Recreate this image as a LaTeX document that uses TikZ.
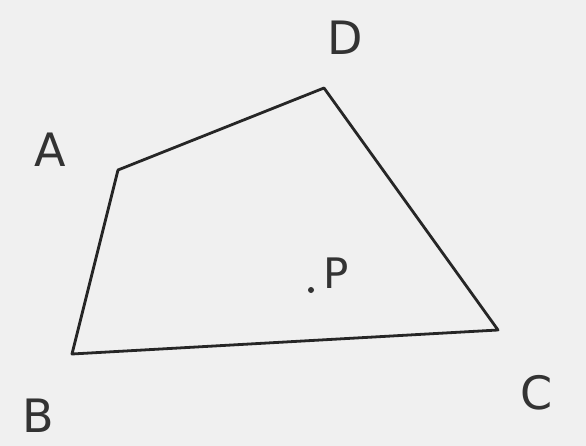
\documentclass[tikz,border=0pt]{standalone}
\usepackage{fontspec}
\setmainfont{DejaVu Sans}
\begin{document}
\begin{tikzpicture}[x=1pt,y=-1pt,
  lbl/.style={font=\fontsize{46}{50}\selectfont, text=black!80, inner sep=0pt},
  edge/.style={draw=black!85, line width=2.8pt, line join=round}]
\fill[black!6] (0,0) rectangle (586,446);
\useasboundingbox (0,0) rectangle (586,446);
\coordinate (A) at (118,170);
\coordinate (D) at (324,88);
\coordinate (C) at (498,330);
\coordinate (B) at (72,354);
\coordinate (P) at (311,290);
\draw[edge] (A) -- (D) -- (C) -- (B) -- cycle;
\fill[black!80] (P) circle (3pt);
\node[lbl] (la) at (50,150) {A};
\node[lbl] (ld) at (345,38) {D};
\node[lbl] (lc) at (537,393) {C};
\node[lbl] (lb) at (38,416) {B};
\node[lbl, font=\fontsize{42}{46}\selectfont] (lp) at (336,273) {P};
\end{tikzpicture}
\end{document}
